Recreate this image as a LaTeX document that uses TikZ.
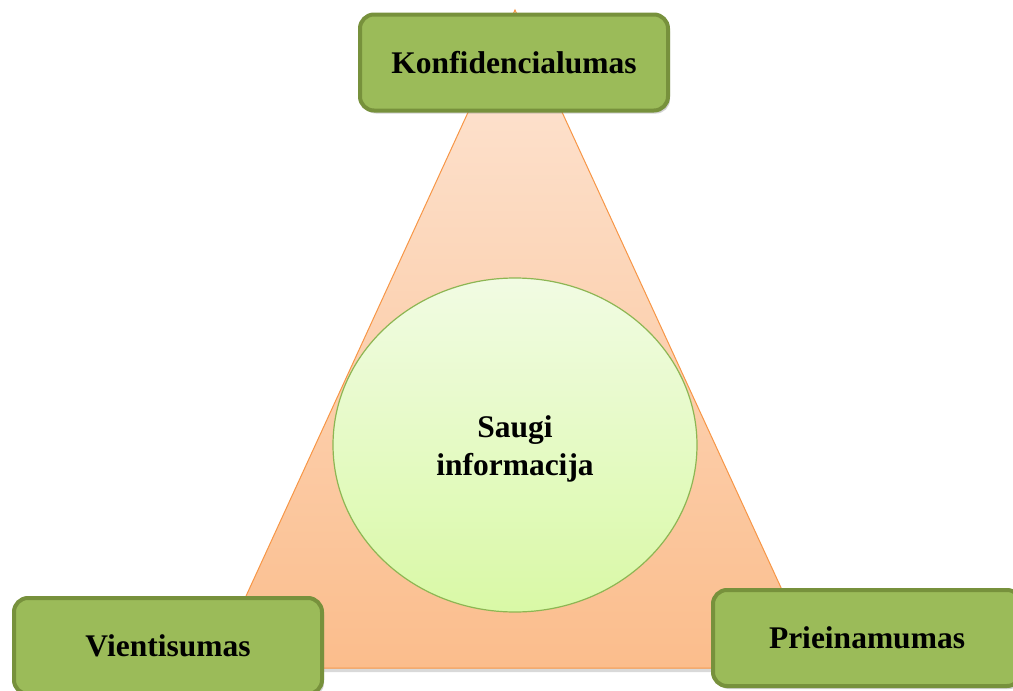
\documentclass[tikz,border=0pt]{standalone}
\usepackage{fontspec}
\setmainfont{Liberation Serif}
\usetikzlibrary{shadows,shapes.geometric}
\definecolor{boxfill}{HTML}{9BBB59}
\definecolor{boxline}{HTML}{77913C}
\definecolor{triline}{HTML}{F79646}
\definecolor{tritop}{HTML}{FDE6D6}
\definecolor{tribot}{HTML}{FBBD8C}
\definecolor{cirtop}{HTML}{F1FBE3}
\definecolor{cirbot}{HTML}{D9F9A6}
\definecolor{cirline}{HTML}{8DB653}
\tikzset{
  corebox/.style={draw=boxline, line width=4pt, fill=boxfill, rounded corners=14pt,
    minimum width=308pt, minimum height=96pt, inner sep=0pt,
    font=\fontsize{31.5}{37}\selectfont\bfseries,
    drop shadow={opacity=0.35, shadow xshift=2pt, shadow yshift=-3pt}},
  tri/.style={draw=triline, line width=1pt, top color=tritop, bottom color=tribot,
    drop shadow={opacity=0.3, shadow xshift=1pt, shadow yshift=-4pt}},
  core/.style={ellipse, draw=cirline, line width=1.2pt, top color=cirtop, bottom color=cirbot,
    minimum width=364pt, minimum height=334pt, inner sep=0pt, align=center,
    font=\fontsize{31.5}{38}\selectfont\bfseries}
}
\begin{document}
\begin{tikzpicture}[x=1pt,y=-1pt]
\useasboundingbox (0,0) rectangle (1013,691);
\coordinate (A) at (515,10);
\coordinate (B) at (213,668);
\coordinate (C) at (818,668);
\path[tri] (A) -- (B) -- (C) -- cycle;
\node[core] (center) at (515,445) {};
\node[align=center, font=\fontsize{31.5}{38}\selectfont\bfseries] (label) at ([yshift=-4pt]center.center) {Saugi\\informacija};
\node[corebox] (konf) at (514,62.5) {\raisebox{-2pt}{Konfidencialumas}};
\node[corebox] (vien) at (168,646) {\raisebox{-2pt}{Vientisumas}};
\node[corebox] (prie) at (867,638) {\raisebox{-2pt}{Prieinamumas}};
\end{tikzpicture}
\end{document}
